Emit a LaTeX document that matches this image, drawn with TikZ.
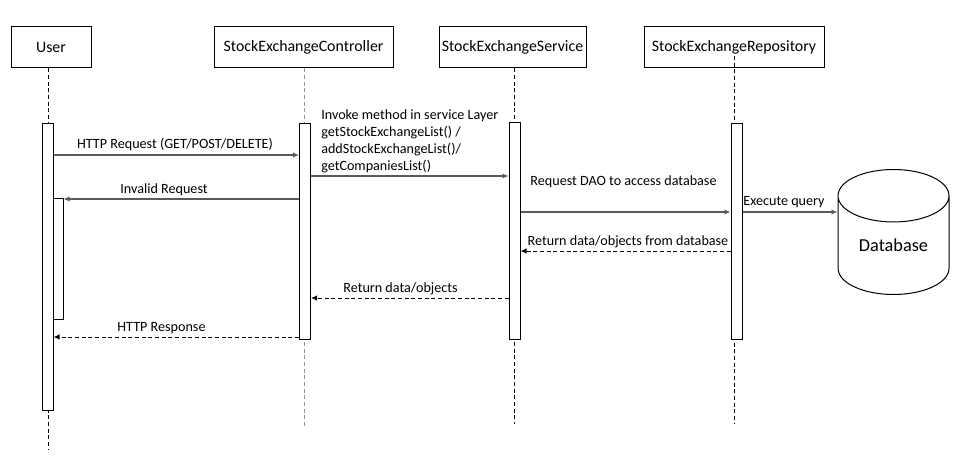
\documentclass[tikz,border=0pt]{standalone}
\usepackage{fontspec}
\setmainfont{Carlito}
\usetikzlibrary{arrows.meta,shapes.geometric}

\tikzset{
  headbox/.style={draw, line width=0.75pt, minimum height=30.75pt, inner sep=0pt, font=\fontsize{11.9}{14}\selectfont},
  actbar/.style={draw, fill=white, line width=0.75pt, minimum width=8.25pt, inner sep=0pt},
  lifeline/.style={dashed, line width=0.75pt, dash pattern=on 3pt off 2pt},
  callmsg/.style={line width=0.9pt, draw={rgb,255:red,90;green,90;blue,90}, -{Latex[length=4.5pt,width=4pt]}},
  retmsg/.style={line width=0.75pt, dashed, dash pattern=on 3pt off 2pt, -{Latex[length=4.5pt,width=4pt]}},
  msgtext/.style={inner sep=0.75pt, font=\fontsize{10.6}{12.75}\selectfont},
}

\begin{document}
\begin{tikzpicture}[x=0.75pt,y=0.75pt,yscale=-1]
\useasboundingbox (0,0) rectangle (960,456);

%Shape: Rectangle (lifeline heads)
\draw (51,47.5) node [headbox, minimum width=60pt] (user) {User};
\draw (303.5,47.5) node [headbox, minimum width=134.25pt] (ctrl) {StockExchangeController};
\draw (512.5,47.5) node [headbox, minimum width=110.25pt] (svc) {StockExchangeService};
\draw (734,47.5) node [headbox, minimum width=135pt] (repo) {StockExchangeRepository};

%Lifelines
\coordinate (userend) at (48,450);
\coordinate (ctrlend) at (304,428);
\coordinate (svcend) at (514,424);
\coordinate (repotop) at (734,56);
\coordinate (repoend) at (734,424);
\draw [lifeline] (user.south -| userend) -- (userend);
\draw [lifeline, draw={rgb,255:red,150;green,150;blue,150}] (ctrl.south -| ctrlend) -- (ctrlend);
\draw [lifeline] (svc.south -| svcend) -- (svcend);
\draw [lifeline] (repotop) -- (repoend);

%Shape: Activation bars
\draw (47.5,267) node [actbar, minimum height=214.5pt] (ubar) {};
\draw (58,259) node [actbar, minimum width=7.5pt, minimum height=90pt] (unest) {};
\draw (305,231.5) node [actbar, minimum height=161.25pt] (cbar) {};
\draw (514.5,231) node [actbar, minimum height=162pt] (sbar) {};
\draw (736.5,231.5) node [actbar, minimum height=161.25pt] (rbar) {};

%Shape: Can
\draw (893.5,169) node [cylinder, shape border rotate=90, draw, line width=0.75pt, aspect=0.76, minimum width=83.25pt, minimum height=93.75pt, inner sep=0pt, anchor=north, font=\fontsize{13.7}{16}\selectfont] (db) {Database};

%Message levels
\coordinate (m1) at (0,155);
\coordinate (m2) at (0,176);
\coordinate (m3) at (0,199);
\coordinate (m4) at (0,212);
\coordinate (m6) at (0,251);
\coordinate (m7) at (0,298);
\coordinate (m8) at (0,337);

%Straight Lines
\draw [callmsg] (ubar.east |- m1) -- (cbar.west |- m1);
\draw [callmsg] (cbar.east |- m2) -- (sbar.west |- m2);
\draw [callmsg] (cbar.west |- m3) -- (unest.east |- m3);
\draw [callmsg] (sbar.east |- m4) -- (rbar.west |- m4);
\draw [callmsg] (rbar.east |- m4) -- (db.west |- m4);
\draw [retmsg] (rbar.west |- m6) -- (sbar.east |- m6);
\draw [retmsg] (sbar.west |- m7) -- (cbar.east |- m7);
\draw [retmsg] (cbar.west |- m8) -- (ubar.east |- m8);

% Text Node
\draw (175,144) node [msgtext] (treq) {HTTP Request (GET/POST/DELETE)};
% Text Node
\draw (320,141.5) node [msgtext, anchor=west, align=left] (tinv) {Invoke method in service Layer\\getStockExchangeList() /\\addStockExchangeList()/\\getCompaniesList()};
% Text Node
\draw (164,190) node [msgtext] (tbad) {Invalid Request};
% Text Node
\draw (623.5,182) node [msgtext] (tdao) {Request DAO to access database};
% Text Node
\draw (784,202) node [msgtext] (texe) {Execute query};
% Text Node
\draw (628,242) node [msgtext] (tret) {Return data/objects from database};
% Text Node
\draw (400.5,289) node [msgtext] (tobj) {Return data/objects};
% Text Node
\draw (161.5,328) node [msgtext] (tres) {HTTP Response};

\end{tikzpicture}
\end{document}
